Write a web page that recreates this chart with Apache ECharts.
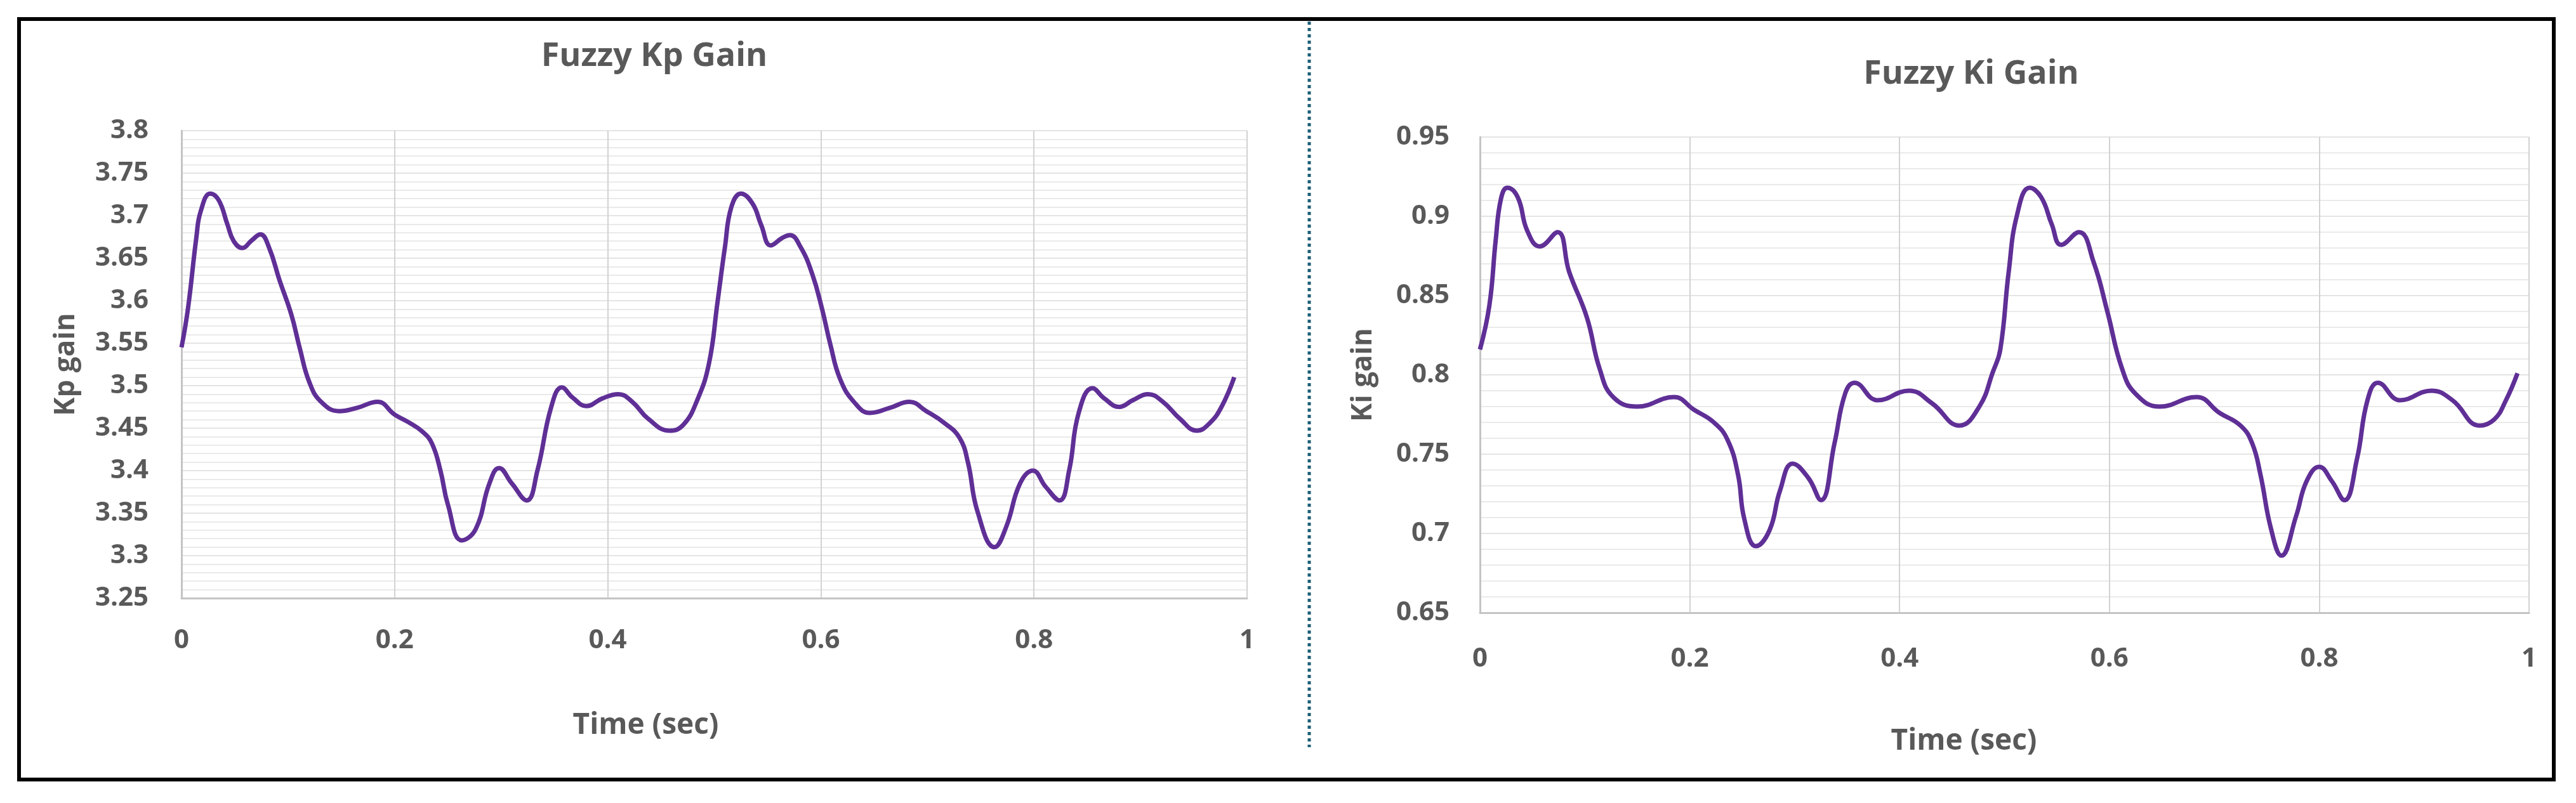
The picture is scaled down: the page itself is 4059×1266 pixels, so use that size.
<!DOCTYPE html>
<html>
<head>
<meta charset="utf-8">
<script src="https://cdn.jsdelivr.net/npm/echarts@6/dist/echarts.min.js"></script>
<style>
html,body{margin:0;padding:0;background:#fff;}
#chart{width:4059px;height:1266px;}
</style>
</head>
<body>
<div id="chart"></div>
<script>
// ---- Data ----
const kpTime = [0, 0.006, 0.014, 0.018, 0.027, 0.035, 0.043, 0.049, 0.057, 0.066, 0.074, 0.082, 0.092, 0.103, 0.111, 0.120, 0.131, 0.148, 0.165, 0.184, 0.200, 0.213, 0.226, 0.235, 0.243, 0.250, 0.263, 0.276, 0.289, 0.298, 0.310, 0.324, 0.334, 0.347, 0.357, 0.367, 0.380, 0.395, 0.410, 0.423, 0.438, 0.458, 0.471, 0.484, 0.495, 0.503, 0.510, 0.516, 0.525, 0.536, 0.544, 0.553, 0.564, 0.571, 0.581, 0.592, 0.601, 0.609, 0.618, 0.631, 0.646, 0.665, 0.683, 0.699, 0.716, 0.730, 0.738, 0.747, 0.763, 0.774, 0.787, 0.799, 0.811, 0.824, 0.833, 0.842, 0.855, 0.866, 0.880, 0.893, 0.907, 0.921, 0.937, 0.953, 0.965, 0.976, 0.988];
const kpGain = [3.545, 3.590, 3.675, 3.705, 3.726, 3.718, 3.690, 3.670, 3.662, 3.671, 3.678, 3.663, 3.624, 3.584, 3.544, 3.504, 3.481, 3.470, 3.474, 3.481, 3.466, 3.457, 3.446, 3.432, 3.400, 3.360, 3.318, 3.331, 3.385, 3.403, 3.385, 3.365, 3.400, 3.475, 3.498, 3.486, 3.476, 3.485, 3.490, 3.481, 3.461, 3.447, 3.454, 3.483, 3.526, 3.598, 3.663, 3.710, 3.726, 3.714, 3.689, 3.665, 3.674, 3.677, 3.663, 3.631, 3.591, 3.548, 3.508, 3.481, 3.468, 3.474, 3.481, 3.470, 3.456, 3.439, 3.410, 3.352, 3.310, 3.334, 3.385, 3.400, 3.381, 3.365, 3.400, 3.468, 3.497, 3.485, 3.475, 3.483, 3.490, 3.481, 3.461, 3.447, 3.456, 3.475, 3.510];

const kiTime = [0, 0.009, 0.015, 0.020, 0.026, 0.036, 0.045, 0.057, 0.074, 0.085, 0.102, 0.114, 0.127, 0.150, 0.185, 0.204, 0.223, 0.236, 0.246, 0.252, 0.263, 0.276, 0.286, 0.298, 0.313, 0.325, 0.338, 0.348, 0.357, 0.379, 0.409, 0.431, 0.457, 0.476, 0.489, 0.496, 0.504, 0.512, 0.524, 0.535, 0.545, 0.554, 0.571, 0.585, 0.598, 0.612, 0.625, 0.648, 0.683, 0.705, 0.725, 0.736, 0.744, 0.754, 0.764, 0.778, 0.788, 0.800, 0.812, 0.824, 0.836, 0.846, 0.856, 0.877, 0.907, 0.927, 0.953, 0.967, 0.978, 0.989];
const kiGain = [0.816, 0.844, 0.885, 0.911, 0.918, 0.912, 0.891, 0.881, 0.890, 0.865, 0.836, 0.804, 0.786, 0.780, 0.786, 0.778, 0.770, 0.759, 0.737, 0.709, 0.692, 0.702, 0.727, 0.744, 0.735, 0.721, 0.757, 0.788, 0.795, 0.784, 0.790, 0.782, 0.768, 0.780, 0.802, 0.816, 0.865, 0.901, 0.918, 0.912, 0.895, 0.882, 0.890, 0.871, 0.840, 0.804, 0.788, 0.780, 0.786, 0.776, 0.768, 0.757, 0.737, 0.703, 0.686, 0.711, 0.733, 0.742, 0.733, 0.721, 0.747, 0.784, 0.795, 0.784, 0.790, 0.784, 0.768, 0.772, 0.784, 0.801];

const xTicks = [0, 0.2, 0.4, 0.6, 0.8, 1];
const chartTitles = ['Fuzzy Kp Gain', 'Fuzzy Ki Gain'];
const yNames = ['Kp gain', 'Ki gain'];
const xName = 'Time (sec)';

// ---- Build ----
const kpData = kpTime.map((t, i) => [t, kpGain[i]]);
const kiData = kiTime.map((t, i) => [t, kiGain[i]]);

const TXT = '#595959';
const LINE = '#5f2f96';
const FONT = 'Open Sans';

function xAxisCfg(gridIndex, labelMargin, nameGap, padRight) {
  return {
    type: 'value', gridIndex: gridIndex, min: xTicks[0], max: xTicks[xTicks.length - 1], interval: 0.2,
    name: xName, nameLocation: 'middle', nameGap: nameGap,
    nameTextStyle: { fontFamily: FONT, fontWeight: 'bold', fontSize: 46, color: TXT, padding: [0, padRight, 0, 0] },
    axisLine: { show: true, lineStyle: { color: '#c4c4c4', width: 3 } },
    axisTick: { show: false },
    axisLabel: { margin: labelMargin, fontFamily: FONT, fontWeight: 'bold', fontSize: 42, color: TXT },
    splitLine: { show: true, lineStyle: { color: '#d2d2d2', width: 2 } }
  };
}
function yAxisCfg(gridIndex, min, max, interval, name, labelMargin, nameGap) {
  return {
    type: 'value', gridIndex: gridIndex, min: min, max: max, interval: interval,
    name: name, nameLocation: 'middle', nameGap: nameGap, nameRotate: 90,
    nameTextStyle: { fontFamily: FONT, fontWeight: 'bold', fontSize: 44, color: TXT },
    axisLine: { show: true, lineStyle: { color: '#c4c4c4', width: 3 } },
    axisTick: { show: false },
    axisLabel: { margin: labelMargin, fontFamily: FONT, fontWeight: 'bold', fontSize: 42, color: TXT },
    splitLine: { show: true, lineStyle: { color: '#e4e4e4', width: 2 } },
    minorTick: { show: false, splitNumber: 5 },
    minorSplitLine: { show: true, lineStyle: { color: '#eaeaea', width: 2 } }
  };
}

const chart = echarts.init(document.getElementById('chart'), null, { renderer: 'canvas' });
chart.setOption({
  backgroundColor: '#ffffff',
  animation: false,
  title: [
    { text: chartTitles[0], left: 1026, top: 58, textAlign: 'center',
      textStyle: { fontFamily: FONT, fontWeight: 'bold', fontSize: 52, color: TXT } },
    { text: chartTitles[1], left: 3101, top: 86, textAlign: 'center',
      textStyle: { fontFamily: FONT, fontWeight: 'bold', fontSize: 52, color: TXT } }
  ],
  grid: [
    { left: 286, top: 206, width: 1679, height: 737, containLabel: false },
    { left: 2332, top: 216, width: 1653, height: 750, containLabel: false }
  ],
  xAxis: [
    xAxisCfg(0, 46, 178, 216),
    xAxisCfg(1, 52, 180, 128)
  ],
  yAxis: [
    yAxisCfg(0, 3.25, 3.8, 0.05, yNames[0], 52, 160),
    yAxisCfg(1, 0.65, 0.95, 0.05, yNames[1], 48, 162)
  ],
  series: [
    { type: 'line', name: 'Kp', xAxisIndex: 0, yAxisIndex: 0, data: kpData, smooth: 0.45,
      showSymbol: false, lineStyle: { color: LINE, width: 7 }, itemStyle: { color: LINE } },
    { type: 'line', name: 'Ki', xAxisIndex: 1, yAxisIndex: 1, data: kiData, smooth: 0.45,
      showSymbol: false, lineStyle: { color: LINE, width: 7 }, itemStyle: { color: LINE } }
  ],
  graphic: [
    { type: 'rect', silent: true, z: 100,
      shape: { x: 30, y: 30, width: 3994, height: 1199 },
      style: { fill: 'none', stroke: '#000000', lineWidth: 6 } },
    { type: 'line', silent: true, z: 100,
      shape: { x1: 2063, y1: 34, x2: 2063, y2: 1178 },
      style: { stroke: '#1f6078', lineWidth: 5, lineDash: [5, 5] } }
  ]
});
</script>
</body>
</html>
